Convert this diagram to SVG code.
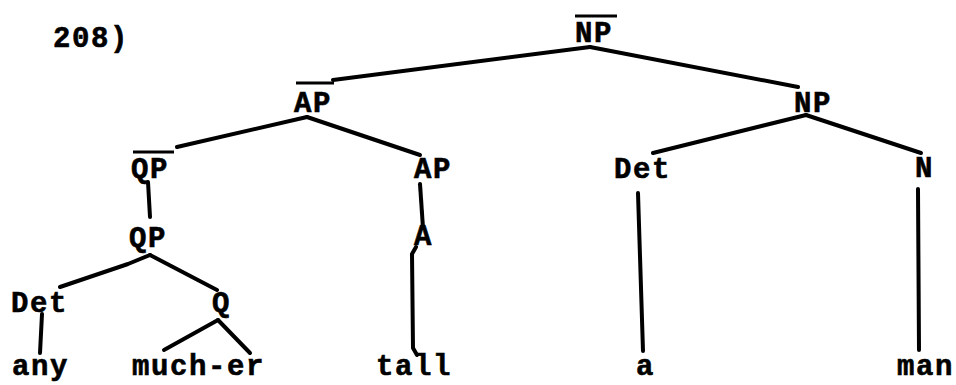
<svg xmlns="http://www.w3.org/2000/svg" width="956" height="385" viewBox="0 0 956 385">
<style>
.t{font-family:"Liberation Mono","DejaVu Sans Mono",monospace;font-weight:bold;font-size:29px;letter-spacing:1.6px;fill:#000;stroke:#000;stroke-width:0.6}
.e{fill:none;stroke:#000;stroke-width:4;stroke-linecap:round;stroke-linejoin:round}
.bar{stroke:#000;stroke-width:3}
</style>
<rect width="956" height="385" fill="#fff"/>
<text class="t" x="53" y="47">208)</text>
<g id="connectors">
<polyline class="e" points="590,47 333,80"/>
<polyline class="e" points="590,47 798,87"/>
<polyline class="e" points="307,117 177,147"/>
<polyline class="e" points="307,117 420,155"/>
<polyline class="e" points="806,115 653,153"/>
<polyline class="e" points="806,115 921,153"/>
<polyline class="e" points="148,182 150,217"/>
<polyline class="e" points="420,184 423,228"/>
<polyline class="e" points="638,193 643,351"/>
<polyline class="e" points="918,189 919,350"/>
<polyline class="e" points="150,255 128,264 60,287"/>
<polyline class="e" points="150,255 217,290"/>
<polyline class="e" points="42,314 40,353"/>
<polyline class="e" points="218,320 164,350"/>
<polyline class="e" points="218,320 250,353"/>
<polyline class="e" points="416,247 412,254 413,348 417,355"/>
</g>
<g id="NPbar"><line class="bar" x1="575" y1="16" x2="617" y2="16"/><text class="t" x="575" y="42">NP</text></g>
<g id="APbar"><line class="bar" x1="296" y1="83" x2="334" y2="83"/><text class="t" x="294" y="112">AP</text></g>
<g id="NP"><text class="t" x="794" y="112">NP</text></g>
<g id="QPbar"><line class="bar" x1="133" y1="152" x2="174" y2="152"/><text class="t" x="131" y="178">QP</text></g>
<g id="AP"><text class="t" x="414" y="178">AP</text></g>
<g id="Det2"><text class="t" x="614" y="178">Det</text></g>
<g id="N"><text class="t" x="915" y="177">N</text></g>
<g id="QP"><text class="t" x="129" y="247">QP</text></g>
<g id="A"><text class="t" x="414" y="245">A</text></g>
<g id="Det1"><text class="t" x="11" y="312">Det</text></g>
<g id="Q"><text class="t" x="212" y="312">Q</text></g>
<g id="any"><text class="t" x="12" y="375">any</text></g>
<g id="much-er"><text class="t" x="132" y="375">much-er</text></g>
<g id="tall"><text class="t" x="376" y="375">tall</text></g>
<g id="a"><text class="t" x="636" y="375">a</text></g>
<g id="man"><text class="t" x="897" y="375">man</text></g>
</svg>
